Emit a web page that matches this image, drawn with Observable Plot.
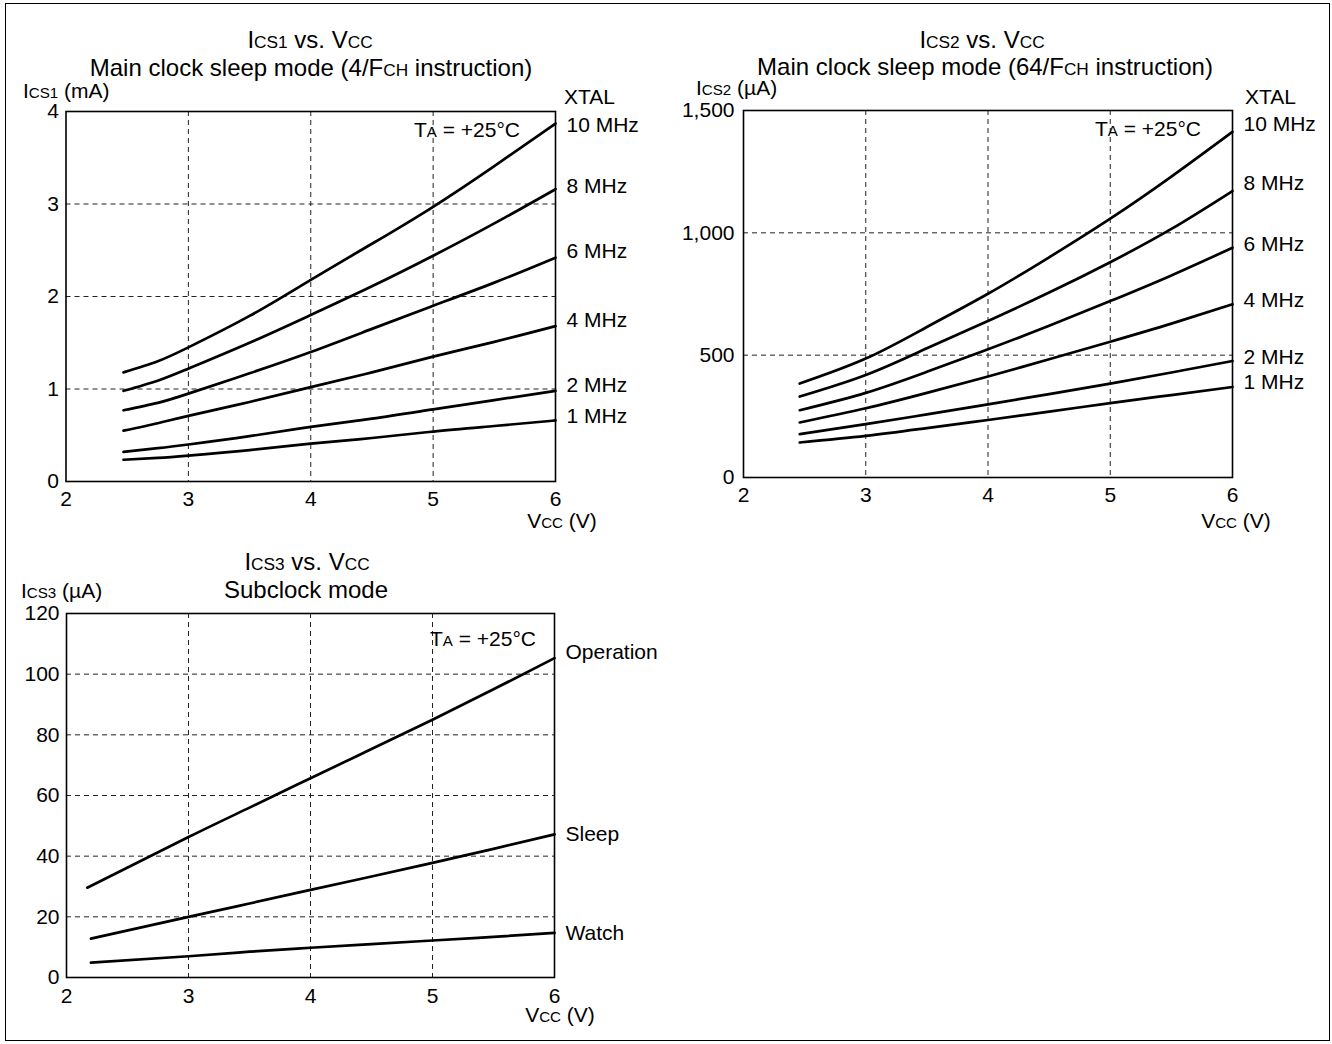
<!DOCTYPE html>
<html><head><meta charset="utf-8">
<script src="https://cdn.jsdelivr.net/npm/d3@7"></script>
<script src="https://cdn.jsdelivr.net/npm/@observablehq/plot@0.6"></script>
<style>
html,body{margin:0;padding:0;background:#fff;}
#root{position:relative;width:1332px;height:1044px;overflow:hidden;background:#fff;}
#border{position:absolute;left:5px;top:3px;width:1325px;height:1038px;border:1.5px solid #000;box-sizing:border-box;}
.panel{position:absolute;}
#overlay{position:absolute;left:0;top:0;pointer-events:none;}
</style></head><body>
<div id="root"><div id="border"></div></div>
<script>
const FONT = '"Liberation Sans", Arial, Helvetica, sans-serif';

// ---------- Panel 1: ICS1 (mA) vs VCC ----------
const vcc1 = [2.47, 2.75, 3, 3.5, 4, 4.5, 5, 5.5, 6];
const xtal1 = ["10 MHz", "8 MHz", "6 MHz", "4 MHz", "2 MHz", "1 MHz"];
const ics1_10 = [1.18, 1.30, 1.45, 1.79, 2.18, 2.57, 2.97, 3.41, 3.87];
const ics1_8  = [0.98, 1.09, 1.22, 1.50, 1.80, 2.11, 2.44, 2.79, 3.16];
const ics1_6  = [0.77, 0.85, 0.95, 1.17, 1.40, 1.65, 1.90, 2.15, 2.42];
const ics1_4  = [0.55, 0.63, 0.71, 0.86, 1.02, 1.18, 1.35, 1.51, 1.68];
const ics1_2  = [0.32, 0.36, 0.40, 0.49, 0.59, 0.68, 0.78, 0.88, 0.98];
const ics1_1  = [0.235, 0.255, 0.28, 0.34, 0.41, 0.47, 0.54, 0.60, 0.66];
const yTicks1 = [0, 1, 2, 3, 4];

// ---------- Panel 2: ICS2 (µA) vs VCC ----------
const vcc2 = [2.46, 3, 3.5, 4, 4.5, 5, 5.5, 6];
const xtal2 = ["10 MHz", "8 MHz", "6 MHz", "4 MHz", "2 MHz", "1 MHz"];
const ics2_10 = [384, 486, 615, 751, 900, 1058, 1230, 1413];
const ics2_8  = [331, 419, 528, 640, 756, 880, 1016, 1171];
const ics2_6  = [275, 346, 432, 524, 620, 721, 826, 939];
const ics2_4  = [225, 283, 346, 413, 483, 555, 629, 708];
const ics2_2  = [177, 218, 258, 299, 341, 384, 429, 476];
const ics2_1  = [143, 170, 202, 235, 269, 304, 337, 370];
const yTicks2 = [0, 500, 1000, 1500];

// ---------- Panel 3: ICS3 (µA) vs VCC ----------
const vcc3op = [2.17, 3, 3.5, 4, 4.5, 5, 5.5, 6];
const vcc3 = [2.2, 3, 3.5, 4, 4.5, 5, 5.5, 6];
const modes3 = ["Operation", "Sleep", "Watch"];
const ics3_op    = [29.6, 46.3, 56.0, 65.7, 75.3, 85.0, 95.0, 105.3];
const ics3_sleep = [12.8, 20.0, 24.4, 28.9, 33.3, 37.8, 42.4, 47.2];
const ics3_watch = [4.9, 7.0, 8.5, 9.8, 11.0, 12.2, 13.4, 14.7];
const yTicks3 = [0, 20, 40, 60, 80, 100, 120];

const xTicks = [2, 3, 4, 5, 6];
const xGrid = [3, 4, 5];

function rows(xs, name, ys) { return ys.map((y, k) => ({v: xs[k], i: y, s: name})); }

const data1 = [ics1_10, ics1_8, ics1_6, ics1_4, ics1_2, ics1_1].flatMap((a, k) => rows(vcc1, xtal1[k], a));
const data2 = [ics2_10, ics2_8, ics2_6, ics2_4, ics2_2, ics2_1].flatMap((a, k) => rows(vcc2, xtal2[k], a));
const data3 = [
  ...rows(vcc3op, modes3[0], ics3_op),
  ...rows(vcc3, modes3[1], ics3_sleep),
  ...rows(vcc3, modes3[2], ics3_watch)
];

const root = document.getElementById("root");

function panel(opt) {
  const dash = {stroke: "#222", strokeWidth: 1, strokeDasharray: "5,4", strokeOpacity: 1};
  const labelMarks = opt.names.map((name, k) =>
    Plot.text(opt.data, Plot.selectLast({
      filter: d => d.s === name,
      x: "v", y: "i", text: "s", dx: 11, dy: opt.labelDy[k],
      textAnchor: "start", fill: "#000", fontSize: 21
    })));
  const p = Plot.plot({
    width: opt.width, height: opt.height,
    marginLeft: opt.ml, marginRight: opt.mr, marginTop: opt.mt, marginBottom: opt.mb,
    x: {domain: [2, 6], label: null},
    y: {domain: opt.yDomain, label: null},
    style: {fontSize: "21px", fontFamily: FONT, color: "#000", background: "transparent", overflow: "visible"},
    marks: [
      Plot.gridX(xGrid, dash),
      Plot.gridY(opt.yTicks.slice(1, -1), dash),
      Plot.line(opt.data, {x: "v", y: "i", z: "s", stroke: "#000", strokeWidth: 2.7, curve: "natural"}),
      Plot.frame({stroke: "#000", strokeWidth: 1.6}),
      Plot.axisX(xTicks, {tickSize: 0, tickPadding: opt.xPad, label: null, tickFormat: d3.format("d"), fill: "#000", fontSize: 21}),
      Plot.axisY(opt.yTicks, {tickSize: 0, tickPadding: opt.yPad, label: null, tickFormat: opt.fmt, fill: "#000", fontSize: 21}),
      ...labelMarks
    ]
  });
  const d = document.createElement("div");
  d.className = "panel";
  d.style.left = opt.left + "px";
  d.style.top = opt.top + "px";
  d.style.width = opt.width + "px";
  d.appendChild(p);
  root.appendChild(d);
}

panel({data: data1, names: xtal1, yDomain: [0, 4], yTicks: yTicks1, fmt: d3.format("d"),
  left: 0, top: 0, width: 666, height: 540, ml: 65.5, mr: 111, mt: 111, mb: 59, xPad: 10, yPad: 7,
  labelDy: [2, -3, -6, -6, -6, -4]});
panel({data: data2, names: xtal2, yDomain: [0, 1500], yTicks: yTicks2, fmt: d3.format(","),
  left: 666, top: 0, width: 666, height: 540, ml: 77, mr: 100, mt: 110, mb: 63, xPad: 10, yPad: 9,
  labelDy: [-8, -8, -3, -4, -4, -5]});
panel({data: data3, names: modes3, yDomain: [0, 120], yTicks: yTicks3, fmt: d3.format("d"),
  left: 0, top: 540, width: 680, height: 504, ml: 66, mr: 126, mt: 73, mb: 67, xPad: 11, yPad: 7,
  labelDy: [-6, 0, 0]});

// ---------- text annotations ----------
const ov = d3.select(root).append("svg").attr("id", "overlay")
  .attr("width", 1332).attr("height", 1044)
  .style("font-family", FONT).attr("fill", "#000");

function label(x, y, parts, size, anchor) {
  const t = ov.append("text").attr("x", x).attr("y", y)
    .attr("font-size", size).attr("text-anchor", anchor || "start");
  parts.forEach(p => {
    if (Array.isArray(p)) t.append("tspan").attr("font-size", size * 0.72).text(p[0]);
    else t.append("tspan").text(p);
  });
}

// Panel 1
label(310, 48, ["I", ["CS1"], " vs. V", ["CC"]], 24, "middle");
label(311, 76, ["Main clock sleep mode (4/F", ["CH"], " instruction)"], 24, "middle");
label(23, 98, ["I", ["CS1"], " (mA)"], 21);
label(564, 104, ["XTAL"], 21);
label(520, 137, ["T", ["A"], " = +25°C"], 21, "end");
label(562, 528, ["V", ["CC"], " (V)"], 21, "middle");

// Panel 2
label(982, 48, ["I", ["CS2"], " vs. V", ["CC"]], 24, "middle");
label(985, 75, ["Main clock sleep mode (64/F", ["CH"], " instruction)"], 24, "middle");
label(696, 95, ["I", ["CS2"], " (µA)"], 21);
label(1245, 104, ["XTAL"], 21);
label(1201, 136, ["T", ["A"], " = +25°C"], 21, "end");
label(1236, 528, ["V", ["CC"], " (V)"], 21, "middle");

// Panel 3
label(307, 570, ["I", ["CS3"], " vs. V", ["CC"]], 24, "middle");
label(306, 598, ["Subclock mode"], 24, "middle");
label(21, 598, ["I", ["CS3"], " (µA)"], 21);
label(430, 646, ["T", ["A"], " = +25°C"], 21);
label(560, 1022, ["V", ["CC"], " (V)"], 21, "middle");
</script>
</body></html>
